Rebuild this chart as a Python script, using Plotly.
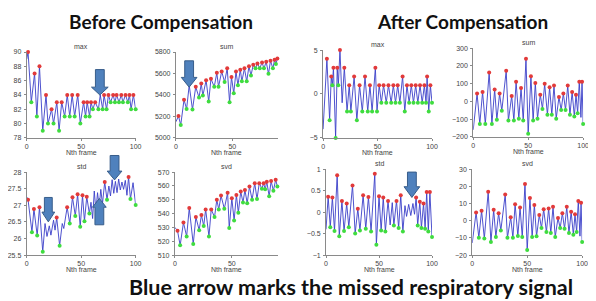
import plotly.graph_objects as go

W, H = 596, 301          # browser window
OFF = 8                  # default body margin of the written page
FW, FH = W - OFF, H - OFF

# ---------------- data (frame, value, marker code r=red peak, g=green trough, -=none) -----
bmax_frames = [0, 1.2, 4.2, 7.2, 9.3, 11.7, 14.7, 17.7, 19.5, 22.8, 24.6, 27.6, 29.7, 32.1, 34.8,
               37.2, 39.5, 41.7, 44, 46.8, 49.2, 52.2, 54, 55.5, 57.7, 59, 60.7, 62.8, 65.8, 67.5,
               69.7, 71, 73.3, 75, 77, 79.3, 81, 82.5, 84.7, 86.8, 88.3, 90.7, 92.8, 94.3, 95.8,
               97.9, 100]
bmax_values = [89, 90, 83, 87, 81, 88, 79, 84, 80, 82, 80, 83, 79, 83, 81,
               84, 81, 84, 81, 84, 80, 83, 81, 83, 81, 83, 82, 83, 82, 84,
               82, 84, 82, 84, 83, 84, 83, 84, 83, 84, 83, 84, 83, 84, 82,
               84, 82]
bmax_marks = "-" + "rg" * 14 + "-" + "g" + "rg" * 8

bsum_frames = [0, 2.3, 4.3, 7.2, 9.5, 11.8, 14.7, 17.6, 20.5, 22.5, 23.9, 26.8, 29.1, 31.1, 34,
               36.3, 37.8, 40.6, 43.2, 45.5, 47.6, 49.3, 51.3, 53.3, 55, 57.1, 58.5, 60.8, 62.8,
               64.8, 66.6, 68.6, 70.6, 72.3, 74.4, 76.4, 78.1, 80.1, 82.1, 83.9, 86, 87.5, 88.7, 90]
bsum_values = [5150, 5203, 5121, 5355, 5270, 5491, 5264, 5476, 5376, 5506, 5394, 5536, 5339, 5551,
               5476, 5606, 5476, 5618, 5521, 5648, 5333, 5567, 5415, 5618, 5491, 5636, 5527, 5648,
               5527, 5667, 5582, 5682, 5648, 5694, 5648, 5703, 5648, 5709, 5597, 5718, 5648, 5727,
               5688, 5739]
bsum_marks = "-rgrg-" + "gr" * 19

bstd_frames = [0, 1.2, 4.8, 6.6, 9.6, 11.7, 14.7, 16.8, 18.6, 20.7, 22.2, 24.6, 26, 27.5, 30.2,
               32.6, 34, 37.1, 39.5, 42, 44.6, 46.7, 49.1, 51.2, 53, 55.1, 57.5, 59, 60.5, 62,
               63.5, 65, 66.5, 68, 69.5, 71.6, 73.7, 75.4, 76.9, 78.4, 79.9, 81.4, 82.9, 84.4,
               85.9, 87.4, 88.9, 90.5, 92, 93.5, 95.2, 97.6, 100]
bstd_values = [27.25, 27.17, 26.19, 26.89, 26.09, 26.94, 25.6, 26.45, 26.06, 26.38, 26.1, 26.55,
               26.25, 26.63, 25.78, 26.45, 26.3, 26.94, 26.45, 27.24, 26.68, 27.33, 26.35, 27.3,
               26.52, 27.26, 26.75, 27.09, 26.6, 27.43, 26.84, 27.38, 26.94, 27.48, 27.04, 27.7,
               27.17, 27.58, 27.28, 27.77, 27.36, 27.72, 27.38, 27.79, 27.46, 27.7, 27.48, 27.75,
               27.3, 27.85, 27.19, 27.68, 27.01]
bstd_marks = "-rgrgrg" + "-" * 6 + "rg" + "--" + "rg" * 5 + "-" * 8 + "rg" + "-" * 12 + "rg" + "-g"

bsvd_frames = [0, 2.3, 4.6, 7.5, 10.3, 12.6, 16.1, 18.4, 21.3, 23.3, 25.3, 27, 29.9, 31.9, 34.8,
               36.8, 38.5, 40.5, 43.4, 46.3, 47.7, 50, 52, 54, 55.7, 57.8, 59.8, 61.5, 63.5, 65.5,
               67.8, 70.1, 72.1, 74.1, 76.4, 77.9, 79.3, 80.7, 82.8, 84.5, 86.5, 88.5, 90]
bsvd_values = [530, 527.5, 517, 533.5, 523.5, 544, 518, 537.5, 528, 539, 531, 543, 523.5, 543,
               537.5, 550, 543, 553, 543.5, 555, 529.5, 551, 535, 553.5, 540.5, 556, 548, 557,
               547.5, 559.5, 550, 562, 550.5, 562, 558, 562, 557.5, 563, 552.5, 563.5, 556.5,
               564.5, 559.5]
bsvd_marks = "-" + "rg" * 21

amax_frames = [0, 3.5, 6, 7.5, 8.5, 9.5, 11.5, 13, 14, 15.5, 17.5, 19.5, 22, 24, 25.5, 28.5, 31,
               33.5, 36, 38.5, 41, 43, 45, 48, 49.5, 51.5, 53.5, 55.5, 58, 60, 62.5, 64.5, 66.5,
               68.5, 70.5, 73, 75, 77, 79, 81, 83, 85, 87, 89, 91, 93, 94.5, 95.5, 97, 98.5, 100]
amax_values = [-4, 4, -3, 2, 1, 3, -5, 3, 1, 5, -1, 3, -2, 1, -2, 2, -3, 1, -2, 2, -2, 1, -2, 3,
               -2, 1, -1, 1, -1, 1, -1, 1, -1, 1, -1, 2, -2, 1, -1, 1, -1, 1, -1, 1, -1, 1, -1,
               2, -2, 1, -1]
amax_marks = "-" + "rgrgrgrgr" + "-" + "rg" * 20

asum_frames = [0, 3.5, 6, 8.5, 11, 14.5, 17, 19.5, 21.5, 24, 26, 30, 32, 35, 37, 39, 41.5, 43.5,
               45.5, 48, 50, 52.5, 54.5, 56.5, 58.5, 61, 63, 65, 67.5, 69.5, 71.5, 73.5, 75.5, 78,
               80, 82, 84, 86, 88, 90, 92, 93.5, 95, 96.5, 98, 99, 100]
asum_values = [-160, 44, -127, 53, -127, 163, -127, 67, -103, 44, -53, 172, -108, 31, -108, 111,
               -97, 75, -108, 240, -182, 141, -108, 104, -97, 38, -42, 99, -75, 80, -75, 89, -97,
               25, -48, 44, -48, 89, -75, 53, -85, 38, -66, 111, -90, 111, -127]
asum_marks = "-" + "rg" * 21 + "r" + "-" + "rg"

astd_frames = [0, 2, 4, 6, 8, 10.5, 12.5, 15, 17, 19.5, 21.5, 25, 27.5, 30, 32, 35, 37.5, 40,
               42.5, 46, 47.5, 50, 52, 54, 56, 58.5, 60.5, 62.5, 64, 66.5, 68.5, 70.5, 72.5, 74.5,
               76, 78, 80, 82, 83.5, 85, 86.5, 88.5, 90, 92, 93.5, 95, 96.5, 98, 100]
astd_values = [-0.4, 0.36, -0.35, 0.34, -0.44, 0.86, -0.56, 0.26, -0.44, 0.2, -0.35, 0.62, -0.5,
               0.08, -0.43, 0.39, -0.39, 0.35, -0.45, 0.89, -0.76, 0.37, -0.43, 0.34, -0.45, 0.26,
               -0.3, 0.22, -0.31, 0.26, -0.37, 0.39, -0.45, 0.15, -0.1, 0.18, -0.08, 0.2, -0.05,
               0.34, -0.31, 0.24, -0.37, 0.2, -0.39, 0.47, -0.45, 0.47, -0.58]
astd_marks = "-" + "rg" * 12 + "r" + "--" + "grgrg" + "-" * 6 + "rg" * 5

asvd_frames = asum_frames
asvd_values = [-13, 4.8, -9.9, 5.8, -10.4, 16.8, -12.4, 6.3, -9.5, 4.4, -5.7, 15.3, -10, 2, -10,
               9.6, -8.9, 7.7, -9.5, 21.4, -17.1, 13.2, -9.5, 9.2, -9.1, 3.3, -4.3, 6.7, -6.6, 7.1,
               -7.2, 8.1, -9.5, 1.6, -4.3, 4.4, -4.7, 8.1, -7.2, 5.2, -8.2, 3.7, -6.6, 11.5, -9,
               10.5, -12.4]
asvd_marks = asum_marks

titles = ["max", "sum", "max", "sum", "std", "svd", "std", "svd"]
xlabel = "Nth frame"
x_ranges = [[0, 100], [0, 90.5], [0, 100], [0, 100], [0, 100], [0, 90.5], [0, 100], [0, 100]]
x_ticks = [[0, 50, 100], [0, 50], [0, 50, 100], [0, 50, 100],
           [0, 50, 100], [0, 50], [0, 50, 100], [0, 50, 100]]
y_ranges = [[78, 90], [5000, 5800], [-5, 5], [-200, 300],
            [25.5, 28], [510, 570], [-1, 1], [-20, 30]]
y_ticks = [[78, 80, 82, 84, 86, 88, 90], [5000, 5200, 5400, 5600, 5800], [-5, 0, 5],
           [-200, -100, 0, 100, 200, 300], [25.5, 26, 26.5, 27, 27.5, 28],
           [510, 520, 530, 540, 550, 560, 570], [-1, -0.5, 0, 0.5, 1], [-20, -10, 0, 10, 20, 30]]

series = [(bmax_frames, bmax_values, bmax_marks), (bsum_frames, bsum_values, bsum_marks),
          (amax_frames, amax_values, amax_marks), (asum_frames, asum_values, asum_marks),
          (bstd_frames, bstd_values, bstd_marks), (bsvd_frames, bsvd_values, bsvd_marks),
          (astd_frames, astd_values, astd_marks), (asvd_frames, asvd_values, asvd_marks)]

# panel boxes in window pixels: x0, x1, ytop, ybottom
boxes = [(22, 133, 49, 137), (174, 278, 49, 137), (324, 435, 47, 137), (477, 589, 45, 136),
         (22, 133, 172, 257), (173, 278, 172, 257), (327, 435, 169, 257), (476, 588, 169, 257)]

# block arrows in window pixels: cx, base_y, head_y, tip_y, head half width, shaft half width
arrows = [(96.5, 67, 85, 93, 8.5, 4.5), (187.5, 58, 75, 85, 8, 4.5), (44, 198, 213, 223, 6.5, 4),
          (96, 226, 208, 199, 7, 4.5), (111.5, 155, 171, 180, 7.5, 4.5), (414.5, 172, 187, 198, 8, 4.5)]


def px(x):
    return (x - OFF) / FW


def py(y):
    return 1 - (y - OFF) / FH


# ---------------- figure --------------------------------------------------------------------
LINE = "#3a3ec8"
RED = "#e23a3a"
GREEN = "#3fdc3f"
SMALL = dict(family="Liberation Sans, Arial, sans-serif", size=7, color="#444444")

fig = go.Figure()
layout = dict(width=FW, height=FH, margin=dict(l=0, r=0, t=0, b=0), paper_bgcolor="white",
              plot_bgcolor="white", showlegend=False)
annotations = []
shapes = []

for i, ((fx, fy, mk), box) in enumerate(zip(series, boxes), start=1):
    assert len(fx) == len(fy) == len(mk), (i, len(fx), len(fy), len(mk))
    xa, ya = f"x{i}", f"y{i}"
    fig.add_trace(go.Scatter(x=fx, y=fy, mode="lines", line=dict(color=LINE, width=0.9),
                             xaxis=xa, yaxis=ya, hoverinfo="skip"))
    rx = [x for x, m in zip(fx, mk) if m == "r"]
    ry = [y for y, m in zip(fy, mk) if m == "r"]
    gx = [x for x, m in zip(fx, mk) if m == "g"]
    gy = [y for y, m in zip(fy, mk) if m == "g"]
    fig.add_trace(go.Scatter(x=rx, y=ry, mode="markers", cliponaxis=False,
                             marker=dict(color=RED, size=4, line=dict(width=0)),
                             xaxis=xa, yaxis=ya, hoverinfo="skip"))
    fig.add_trace(go.Scatter(x=gx, y=gy, mode="markers", cliponaxis=False,
                             marker=dict(color=GREEN, size=4, line=dict(width=0)),
                             xaxis=xa, yaxis=ya, hoverinfo="skip"))
    x0, x1, yt, yb = box
    sfx = "" if i == 1 else str(i)
    layout["xaxis" + sfx] = dict(domain=[px(x0), px(x1)], range=x_ranges[i - 1], anchor=ya,
                                 tickvals=x_ticks[i - 1], showline=True, linecolor="#8a8a8a",
                                 linewidth=1, ticks="outside", ticklen=2, tickcolor="#8a8a8a",
                                 showgrid=False, zeroline=False, tickfont=SMALL, ticklabelstandoff=0)
    layout["yaxis" + sfx] = dict(domain=[py(yb), py(yt)], range=y_ranges[i - 1], anchor=xa,
                                 tickvals=y_ticks[i - 1], showline=True, linecolor="#8a8a8a",
                                 linewidth=1, ticks="outside", ticklen=2, tickcolor="#8a8a8a",
                                 showgrid=False, zeroline=False, tickfont=SMALL, ticklabelstandoff=1)
    cx = (x0 + x1) / 2
    annotations.append(dict(text=titles[i - 1], x=px(cx), y=py(yt - 6), xref="paper",
                            yref="paper", showarrow=False, font=SMALL, xanchor="center",
                            yanchor="middle", borderpad=0))
    annotations.append(dict(text=xlabel, x=px(cx), y=py(yb + 15), xref="paper",
                            yref="paper", showarrow=False, font=SMALL, xanchor="center",
                            yanchor="middle", borderpad=0))

BIG = dict(family="Lato, 'Open Sans', sans-serif", size=19, color="#111111", weight="bold")
annotations.append(dict(text="Before Compensation", x=px(159), y=py(18), xref="paper",
                        yref="paper", showarrow=False, font=BIG, xanchor="center", yanchor="middle"))
annotations.append(dict(text="After Compensation", x=px(466), y=py(18), xref="paper",
                        yref="paper", showarrow=False, font=BIG, xanchor="center", yanchor="middle"))
annotations.append(dict(text="Blue arrow marks the missed respiratory signal", x=px(352),
                        y=py(289.5), xref="paper", yref="paper", showarrow=False, borderpad=0,
                        font=dict(BIG, size=21.5), xanchor="center", yanchor="middle"))

for cx, by, hy, ty, hw, sw in arrows:
    pts = [(cx - sw, by), (cx + sw, by), (cx + sw, hy), (cx + hw, hy), (cx, ty), (cx - hw, hy),
           (cx - sw, hy)]
    path = "M " + " L ".join(f"{px(a):.5f},{py(b):.5f}" for a, b in pts) + " Z"
    shapes.append(dict(type="path", path=path, xref="paper", yref="paper",
                       fillcolor="#4f81bd", line=dict(color="#385d8a", width=1), layer="above"))

layout["annotations"] = annotations
layout["shapes"] = shapes
fig.update_layout(**layout)
fig.write_html("out.html", config={"displayModeBar": False})
